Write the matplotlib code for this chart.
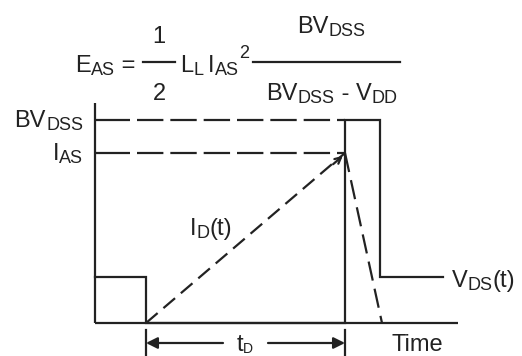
import matplotlib.pyplot as plt

plt.rcParams['font.family'] = ['Liberation Sans', 'DejaVu Sans']
plt.rcParams['lines.scale_dashes'] = False

# time marks (pixel columns) and levels (pixel rows, 0 at top)
t_start, t_on, t_av, t_off, t_fall, t_vds_end, t_axis_end = 95, 146, 345, 380, 382, 443, 458
lv_zero, lv_vdd, lv_ias, lv_bv, lv_top = 323, 277, 153, 120, 103

# V_DS(t) waveform
vds_t = [t_start, t_on, t_on, t_av, t_av, t_off, t_off, t_vds_end]
vds_v = [lv_vdd, lv_vdd, lv_zero, lv_zero, lv_bv, lv_bv, lv_vdd, lv_vdd]

# I_D(t) waveform
id_t = [t_on, t_av, t_fall]
id_v = [lv_zero, lv_ias, lv_zero]

ink = '#222222'
fs, fsub = 17, 13

fig = plt.figure(figsize=(5.22, 3.56), dpi=100)
ax = fig.add_axes([0, 0, 1, 1])
ax.set_xlim(0, 522)
ax.set_ylim(356, 0)
ax.axis('off')
rend = fig.canvas.get_renderer()


def rich(x, y, parts, ha='left'):
    # parts: (text, size, shift down in px); a number alone is a gap in px
    placed = []
    for p in parts:
        if isinstance(p, (int, float)):
            placed.append((None, 0, p))
            continue
        s, size, dy = p
        a = ax.text(0, 0, s, fontsize=size, color=ink, va='baseline', ha='left')
        placed.append((a, dy, a.get_window_extent(rend).width))
    total = sum(w for _, _, w in placed)
    x0 = x - {'left': 0, 'center': total / 2, 'right': total}[ha]
    for a, dy, w in placed:
        if a is not None:
            a.set_position((x0, y + dy))
        x0 += w


def sub(main, s):
    return [(main, fs, 0), (s, fsub, 3)]


# axes
ax.plot([t_start, t_start], [lv_top, lv_zero], color=ink, lw=1.6, solid_capstyle='butt')
ax.plot([t_start, t_axis_end], [lv_zero, lv_zero], color=ink, lw=1.6, solid_capstyle='butt')

# reference levels
for lv in [lv_bv, lv_ias]:
    ax.plot([t_start, t_start + 35], [lv, lv], color=ink, lw=1.6, solid_capstyle='butt')
    ax.plot([t_start + 42, t_av], [lv, lv], color=ink, lw=1.6,
            linestyle=(0, (19, 5)), dash_capstyle='butt')

ax.plot(vds_t, vds_v, color=ink, lw=1.6, solid_joinstyle='miter')
ax.plot(id_t[:2], id_v[:2], color=ink, lw=1.6, linestyle=(0, (11, 5.5)), dash_capstyle='butt')
ax.plot(id_t[1:], id_v[1:], color=ink, lw=1.6, linestyle=(0, (14, 6)), dash_capstyle='butt')
ax.annotate('', xy=(id_t[1], id_v[1] + 1), xytext=(id_t[1] - 14, id_v[1] + 13),
            arrowprops=dict(arrowstyle='->', lw=1.6, color=ink, mutation_scale=11))

# t_D dimension
y_dim = 343
for tx in [t_on, t_av]:
    ax.plot([tx, tx], [330, 356], color=ink, lw=1.6)
ax.annotate('', xy=(t_on, y_dim), xytext=(t_on + 77, y_dim),
            arrowprops=dict(arrowstyle='-|>', lw=1.6, color=ink, mutation_scale=17,
                            shrinkA=0, shrinkB=0))
ax.annotate('', xy=(t_av, y_dim), xytext=(t_av - 77, y_dim),
            arrowprops=dict(arrowstyle='-|>', lw=1.6, color=ink, mutation_scale=17,
                            shrinkA=0, shrinkB=0))

rich(245, 351, [('t', fs, 0), ('D', 10, 2)], ha='center')
rich(392, 351, [('Time', fs, 0)])
rich(452, 287, sub('V', 'DS') + [('(t)', fs, 0)])
rich(190, 235, sub('I', 'D') + [('(t)', fs, 0)])
rich(83, 127, sub('BV', 'DSS'), ha='right')
rich(83, 160, sub('I', 'AS'), ha='right')

# formula
rich(75, 72, sub('E', 'AS') + [(' =', fs, 0)])
ax.plot([143, 175], [62, 62], color=ink, lw=1.6)
rich(159, 43, [('1', fs, 0)], ha='center')
rich(159, 100, [('2', fs, 0)], ha='center')
rich(180, 72, sub('L', 'L') + [5] + sub('I', 'AS') + [('2', fsub, -14)])
ax.plot([253, 400], [62, 62], color=ink, lw=1.6)
rich(331, 33, sub('BV', 'DSS'), ha='center')
rich(332, 100, sub('BV', 'DSS') + [(' - ', fs, 0)] + sub('V', 'DD'), ha='center')

fig.savefig('out.png', dpi=100, facecolor='white')
